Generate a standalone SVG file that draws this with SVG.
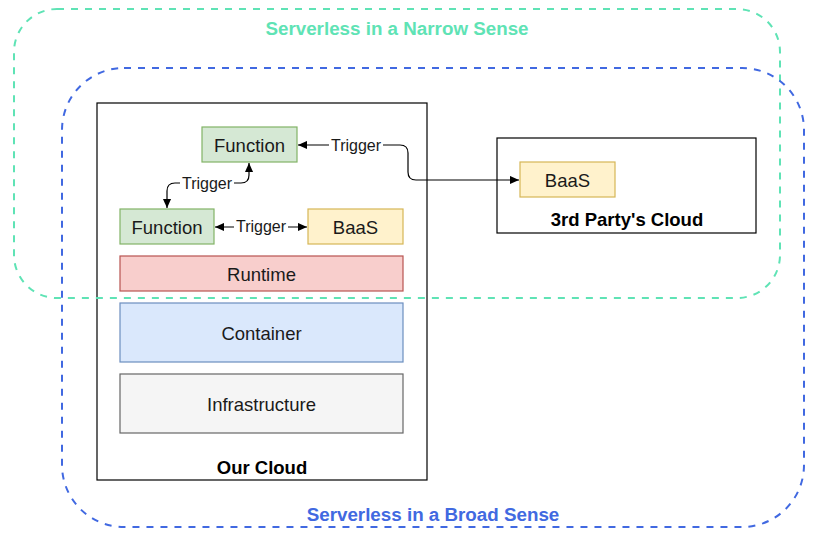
<svg xmlns="http://www.w3.org/2000/svg" width="829" height="546" viewBox="0 0 829 546">
<style>
text{font-family:"Liberation Sans",Arial,Helvetica,sans-serif;text-anchor:middle;dominant-baseline:central;fill:#1a1a1a}
.t{font-size:18.5px}
.b{font-size:18.5px;font-weight:bold;fill:#000}
.lbl{font-size:16px}
.box{stroke-width:1.2}
.green{fill:#d5e8d4;stroke:#82b366}
.yellow{fill:#fff2cc;stroke:#d6b656}
.edge{fill:none;stroke:#000;stroke-width:1.2}
</style>
<defs>
<marker id="ah" viewBox="0 0 10 10" refX="10" refY="5" markerWidth="9" markerHeight="9" markerUnits="userSpaceOnUse" orient="auto-start-reverse">
<path d="M0,0.5 L10,5 L0,9.5 Z" fill="#000"/>
</marker>
</defs>
<rect width="829" height="546" fill="#fff"/>

<g id="our-cloud">
<rect x="97" y="103" width="330" height="377" fill="#fff" stroke="#000" stroke-width="1.2"/>
<text class="b" x="262" y="467">Our Cloud</text>
</g>

<g id="third-party-cloud">
<rect x="497" y="138" width="259" height="95" fill="#fff" stroke="#000" stroke-width="1.2"/>
<text class="b" x="627" y="219">3rd Party's Cloud</text>
</g>

<g id="function-top">
<rect class="box green" x="202" y="127" width="95" height="35"/>
<text class="t" x="249.5" y="145">Function</text>
</g>
<g id="function-bottom">
<rect class="box green" x="120" y="209" width="94" height="35"/>
<text class="t" x="167" y="227">Function</text>
</g>
<g id="baas-ours">
<rect class="box yellow" x="308" y="209" width="95" height="35"/>
<text class="t" x="355.5" y="227">BaaS</text>
</g>
<g id="baas-third">
<rect class="box yellow" x="520" y="162" width="95" height="35"/>
<text class="t" x="567.5" y="180">BaaS</text>
</g>
<g id="runtime">
<rect class="box" x="120" y="256" width="283" height="35" fill="#f8cecc" stroke="#b85450"/>
<text class="t" x="261.5" y="274">Runtime</text>
</g>
<g id="container">
<rect class="box" x="120" y="303" width="283" height="59" fill="#dae8fc" stroke="#6c8ebf"/>
<text class="t" x="261.5" y="333">Container</text>
</g>
<g id="infrastructure">
<rect class="box" x="120" y="374" width="283" height="59" fill="#f5f5f5" stroke="#666666"/>
<text class="t" x="261.5" y="404">Infrastructure</text>
</g>

<g id="connectors">
<path class="edge" d="M298,145 L400,145 Q408,145 408,153 L408,172 Q408,180 416,180 L519,180" marker-start="url(#ah)" marker-end="url(#ah)"/>
<rect x="329" y="136" width="54" height="18" fill="#fff"/>
<text class="lbl" x="356" y="145">Trigger</text>

<path class="edge" d="M167,208 L167,191 Q167,183 175,183 L241,183 Q249,183 249,175 L249,163" marker-start="url(#ah)" marker-end="url(#ah)"/>
<rect x="180" y="174" width="54" height="18" fill="#fff"/>
<text class="lbl" x="207" y="183">Trigger</text>

<path class="edge" d="M215,227 L307,227" marker-start="url(#ah)" marker-end="url(#ah)"/>
<rect x="234" y="217" width="54" height="18" fill="#fff"/>
<text class="lbl" x="261" y="226">Trigger</text>
</g>

<g id="narrow-sense">
<rect x="14" y="9" width="766" height="289" rx="43" ry="43" fill="none" stroke="#5fe3b5" stroke-width="2" stroke-dasharray="7 7"/>
<text x="397" y="28" style="font-size:18.8px;font-weight:bold;fill:#5fe3b5">Serverless in a Narrow Sense</text>
</g>
<g id="broad-sense">
<rect x="62" y="68" width="742" height="459" rx="62" ry="62" fill="none" stroke="#4169e1" stroke-width="2" stroke-dasharray="7 7"/>
<text x="433" y="514" style="font-size:18.8px;font-weight:bold;fill:#4169e1">Serverless in a Broad Sense</text>
</g>
</svg>
